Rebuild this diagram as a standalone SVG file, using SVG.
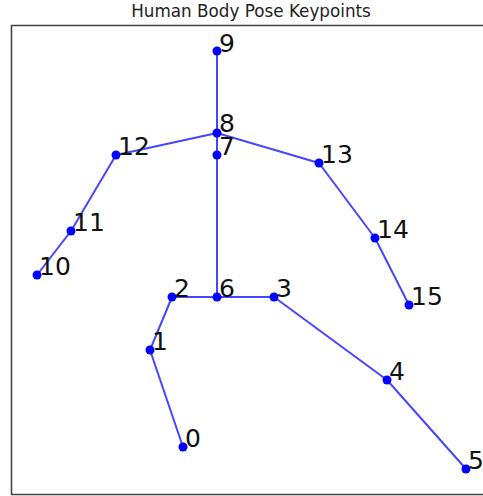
<svg xmlns="http://www.w3.org/2000/svg" width="483" height="496" viewBox="0 0 483 496">
<style>
.e{stroke:#4646ff;stroke-width:2;fill:none}
.p{fill:#0000ff}
.t{font-family:"DejaVu Sans",sans-serif;font-size:25px;fill:#111}
</style>
<rect width="483" height="496" fill="#fff"/>
<text x="251" y="17" text-anchor="middle" style="font-family:'DejaVu Sans',sans-serif;font-size:16.8px;fill:#222">Human Body Pose Keypoints</text>
<path d="M11.5 494.5 V25.5 H490 M11 494.5 H490" stroke="#444" stroke-width="1.6" fill="none"/>
<g id="connectors">
<line class="e" x1="217" y1="51" x2="217" y2="133"/>
<line class="e" x1="217" y1="133" x2="217" y2="297"/>
<line class="e" x1="217" y1="133" x2="116" y2="155"/>
<line class="e" x1="116" y1="155" x2="71" y2="231"/>
<line class="e" x1="71" y1="231" x2="37" y2="275"/>
<line class="e" x1="217" y1="133" x2="319" y2="163"/>
<line class="e" x1="319" y1="163" x2="375" y2="238"/>
<line class="e" x1="375" y1="238" x2="409" y2="305"/>
<line class="e" x1="172" y1="297" x2="274" y2="297"/>
<line class="e" x1="172" y1="297" x2="150" y2="350"/>
<line class="e" x1="150" y1="350" x2="183" y2="447"/>
<line class="e" x1="274" y1="297" x2="387" y2="380"/>
<line class="e" x1="387" y1="380" x2="466" y2="469"/>
</g>
<g id="n0"><circle class="p" cx="183" cy="447" r="4.5"/><text class="t" x="185" y="447">0</text></g>
<g id="n1"><circle class="p" cx="150" cy="350" r="4.5"/><text class="t" x="152" y="350">1</text></g>
<g id="n2"><circle class="p" cx="172" cy="297" r="4.5"/><text class="t" x="174" y="297">2</text></g>
<g id="n3"><circle class="p" cx="274" cy="297" r="4.5"/><text class="t" x="276" y="297">3</text></g>
<g id="n4"><circle class="p" cx="387" cy="380" r="4.5"/><text class="t" x="389" y="380">4</text></g>
<g id="n5"><circle class="p" cx="466" cy="469" r="4.5"/><text class="t" x="468" y="469">5</text></g>
<g id="n6"><circle class="p" cx="217" cy="297" r="4.5"/><text class="t" x="219" y="297">6</text></g>
<g id="n7"><circle class="p" cx="217" cy="155" r="4.5"/><text class="t" x="219" y="155">7</text></g>
<g id="n8"><circle class="p" cx="217" cy="133" r="4.5"/><text class="t" x="219" y="132">8</text></g>
<g id="n9"><circle class="p" cx="217" cy="51" r="4.5"/><text class="t" x="219" y="52">9</text></g>
<g id="n10"><circle class="p" cx="37" cy="275" r="4.5"/><text class="t" x="39" y="275">10</text></g>
<g id="n11"><circle class="p" cx="71" cy="231" r="4.5"/><text class="t" x="73" y="231">11</text></g>
<g id="n12"><circle class="p" cx="116" cy="155" r="4.5"/><text class="t" x="118" y="155">12</text></g>
<g id="n13"><circle class="p" cx="319" cy="163" r="4.5"/><text class="t" x="321" y="163">13</text></g>
<g id="n14"><circle class="p" cx="375" cy="238" r="4.5"/><text class="t" x="377" y="238">14</text></g>
<g id="n15"><circle class="p" cx="409" cy="305" r="4.5"/><text class="t" x="411" y="305">15</text></g>
</svg>
